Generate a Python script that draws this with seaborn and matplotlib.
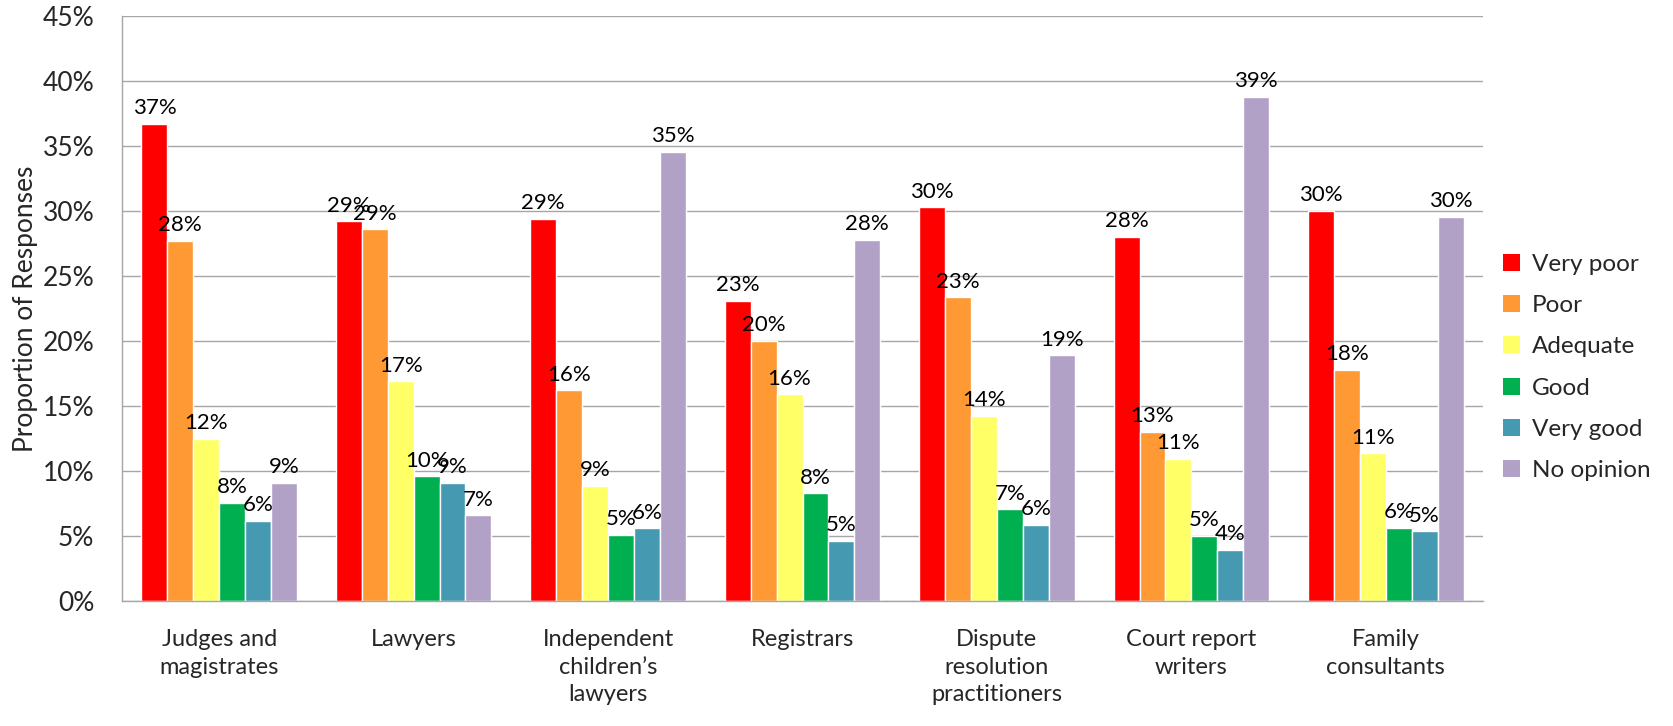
import matplotlib
matplotlib.use("Agg")
import matplotlib.pyplot as plt
import seaborn as sns
import pandas as pd
from matplotlib.patches import Patch

categories = ["Judges and\nmagistrates", "Lawyers", "Independent\nchildren\u2019s\nlawyers",
              "Registrars", "Dispute\nresolution\npractitioners", "Court report\nwriters",
              "Family\nconsultants"]
ratings = ["Very poor", "Poor", "Adequate", "Good", "Very good", "No opinion"]

very_poor = [36.7, 29.2, 29.4, 23.1, 30.3, 28.0, 30.0]
poor = [27.7, 28.6, 16.2, 20.0, 23.35, 13.0, 17.8]
adequate = [12.5, 16.9, 8.85, 15.9, 14.25, 10.95, 11.35]
good = [7.55, 9.6, 5.1, 8.3, 7.05, 5.0, 5.65]
very_good = [6.15, 9.1, 5.6, 4.65, 5.85, 3.95, 5.35]
no_opinion = [9.1, 6.6, 34.55, 27.8, 18.9, 38.8, 29.55]

colors = ["#FF0000", "#FF9933", "#FFFF66", "#00B050", "#4599B1", "#B2A1C7"]

series = [very_poor, poor, adequate, good, very_good, no_opinion]
rows = []
for r, vals in zip(ratings, series):
    for c, v in zip(categories, vals):
        rows.append({"Category": c, "Rating": r, "Value": v})
df = pd.DataFrame(rows)

sns.set_theme(style="white")
plt.rcParams["font.family"] = ["Lato", "DejaVu Sans"]

fig = plt.figure(figsize=(16.73, 7.26), dpi=100)
ax = fig.add_axes([122/1673, 1-601/726, (1483-122)/1673, (601-16)/726])

sns.barplot(data=df, x="Category", y="Value", hue="Rating", order=categories,
            hue_order=ratings, palette=colors, ax=ax, width=0.8, saturation=1,
            legend=False, errorbar=None)

for cont, vals in zip(ax.containers, series):
    ax.bar_label(cont, labels=[f"{v:.0f}%" for v in vals], padding=4, fontsize=16, color="black")

ax.set_ylim(0, 45)
ax.set_xlim(-0.5, 6.5)
ax.set_yticks(range(0, 46, 5))
ax.set_yticklabels([f"{t}%" for t in range(0, 46, 5)])
ax.yaxis.grid(True, color="#A6A6A6", linewidth=1)
ax.set_axisbelow(True)
for s in ["top", "right"]:
    ax.spines[s].set_visible(False)
for s in ["left", "bottom"]:
    ax.spines[s].set_color("#A6A6A6")
    ax.spines[s].set_linewidth(1)
ax.tick_params(axis="y", length=0, pad=20, labelsize=19)
ax.tick_params(axis="x", length=0, pad=20, labelsize=17)
for t in ax.get_xticklabels():
    t.set_linespacing(1.4)
ax.set_xlabel("")
ax.set_ylabel("Proportion of Responses", fontsize=19, labelpad=3)

handles = [Patch(facecolor=c, edgecolor="none") for c in colors]
ax.legend(handles, ratings, loc="center left", bbox_to_anchor=(1503/1673, 1-367.5/726),
          bbox_transform=fig.transFigure, frameon=False, fontsize=17.5,
          handlelength=0.7, handleheight=0.7, handletextpad=0.5,
          labelspacing=0.83, borderpad=0, borderaxespad=0)

fig.savefig("out.png", dpi=100)
